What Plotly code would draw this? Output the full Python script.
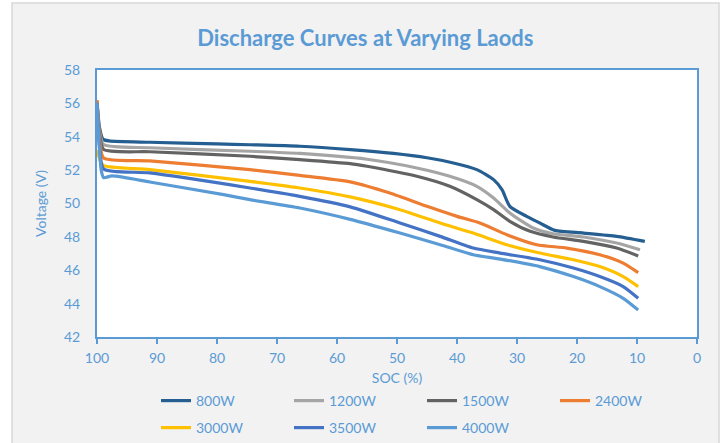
import plotly.graph_objects as go

# ---------------- data ----------------
series_names = ["800W", "1200W", "1500W", "2400W", "3000W", "3500W", "4000W"]
series_colors = ["#255e91", "#a5a5a5", "#636363", "#ed7d31", "#ffc000", "#4472c4", "#5b9bd5"]

soc_800 = [100, 99.6, 99.0, 98.0, 91.2, 80, 74.5, 66.2, 57.8, 50.6, 45.0, 40.6, 36.7, 33.9, 32.5, 31.2, 28.4, 26.2, 23.7, 18.9, 13.4, 8.7]
v_800 = [56.1, 54.6, 53.85, 53.75, 53.67, 53.57, 53.52, 53.43, 53.23, 53.0, 52.74, 52.43, 52.03, 51.43, 50.83, 49.83, 49.23, 48.83, 48.39, 48.23, 48.03, 47.73]

soc_1200 = [100, 99.6, 98.9, 91.2, 74.5, 66.2, 55.0, 46.7, 41.2, 36.7, 33.9, 31.2, 27.3, 24.0, 18.9, 13.4, 9.5]
v_1200 = [56.1, 54.4, 53.53, 53.34, 53.13, 53.0, 52.65, 52.13, 51.63, 51.03, 50.33, 49.43, 48.53, 48.19, 47.99, 47.63, 47.23]

soc_1500 = [100, 99.6, 98.9, 91.2, 74.5, 66.2, 57.8, 55.0, 46.7, 41.2, 36.7, 33.9, 31.2, 27.8, 24.0, 18.9, 13.4, 9.8]
v_1500 = [56.1, 54.2, 53.23, 53.1, 52.83, 52.63, 52.39, 52.23, 51.63, 51.03, 50.23, 49.63, 48.93, 48.33, 47.99, 47.73, 47.33, 46.86]

soc_2400 = [100, 99.6, 98.9, 91.2, 74.5, 66.2, 57.8, 51.2, 45.0, 40.0, 36.2, 31.7, 26.7, 21.7, 16.2, 12.3, 9.8]
v_2400 = [56.2, 54.0, 52.73, 52.56, 52.03, 51.69, 51.3, 50.63, 49.83, 49.23, 48.83, 48.13, 47.53, 47.33, 46.93, 46.43, 45.86]

soc_3000 = [100, 99.5, 98.9, 91.2, 74.5, 66.2, 57.8, 49.5, 42.8, 37.3, 31.7, 26.2, 20.6, 16.2, 12.3, 9.8]
v_3000 = [53.2, 52.6, 52.27, 52.03, 51.33, 50.93, 50.4, 49.63, 48.83, 48.23, 47.53, 47.03, 46.63, 46.22, 45.62, 45.02]

soc_3500 = [100, 99.6, 98.9, 91.2, 74.5, 66.2, 57.8, 49.5, 42.8, 37.3, 32.8, 26.2, 20.6, 16.2, 12.3, 9.8]
v_3500 = [56.0, 53.5, 52.07, 51.83, 50.93, 50.43, 49.8, 48.83, 48.03, 47.33, 47.03, 46.63, 46.13, 45.62, 45.02, 44.32]

soc_4000 = [100, 99.7, 99.3, 98.9, 97.5, 91.2, 78.9, 74.5, 66.2, 57.8, 49.5, 42.8, 37.3, 32.8, 26.2, 20.6, 16.2, 12.3, 9.8]
v_4000 = [56.0, 53.8, 52.0, 51.55, 51.65, 51.29, 50.53, 50.23, 49.73, 49.05, 48.23, 47.53, 46.93, 46.67, 46.22, 45.62, 45.02, 44.32, 43.62]

soc_values = [soc_800, soc_1200, soc_1500, soc_2400, soc_3000, soc_3500, soc_4000]
volt_values = [v_800, v_1200, v_1500, v_2400, v_3000, v_3500, v_4000]

x_ticks = [100, 90, 80, 70, 60, 50, 40, 30, 20, 10, 0]
y_ticks = [42, 44, 46, 48, 50, 52, 54, 56, 58]

title_text = "Discharge Curves at Varying Laods"
x_title = "SOC (%)"
y_title = "Voltage (V)"

# ---------------- figure ----------------
TXT = "#5b9bd5"
FONT = "Lato"
W, H = 725, 443
L, R, T, B = 97, 28, 70, 106
PW, PH = W - L - R, H - T - B


def px_x(px):
    return (px - L) / PW


def px_y(py):
    return (H - B - py) / PH


fig = go.Figure()
for i, (name, col, xs, ys) in enumerate(zip(series_names, series_colors, soc_values, volt_values)):
    fig.add_trace(go.Scatter(
        x=xs, y=ys, mode="lines", name=name,
        line=dict(color=col, width=3.2, shape="spline", smoothing=0.6),
        legend="legend" if i < 4 else "legend2",
    ))

legend_common = dict(
    orientation="h", xanchor="left", yanchor="middle",
    font=dict(family=FONT, size=14, color=TXT),
    bgcolor="rgba(0,0,0,0)", entrywidth=88, entrywidthmode="pixels",
    tracegroupgap=0, itemwidth=30,
)

fig.update_layout(
    width=W, height=H,
    margin=dict(l=L, r=R, t=T, b=B, autoexpand=False),
    paper_bgcolor="#f2f2f2",
    plot_bgcolor="#ffffff",
    title=dict(text=title_text, x=0.504, xref="container", y=1 - 38 / H, yref="container",
               xanchor="center", yanchor="middle",
               font=dict(family=FONT, size=22, color=TXT, weight="bold")),
    xaxis=dict(range=[100, 0], tickvals=x_ticks, showgrid=False, zeroline=False,
               showline=True, linecolor=TXT, linewidth=2, mirror=True,
               ticks="outside", ticklen=5, tickwidth=1.5, tickcolor=TXT,
               ticklabelstandoff=2,
               tickfont=dict(family=FONT, size=14, color=TXT),
               title=dict(text=x_title, font=dict(family=FONT, size=14, color=TXT), standoff=8)),
    yaxis=dict(range=[42, 58], tickvals=y_ticks, showgrid=False, zeroline=False,
               showline=True, linecolor=TXT, linewidth=2, mirror=True,
               ticks="", ticklabelstandoff=12,
               tickfont=dict(family=FONT, size=14, color=TXT),
               title=dict(text=y_title, font=dict(family=FONT, size=14, color=TXT), standoff=14)),
    legend=dict(x=px_x(156), y=px_y(401), **legend_common),
    legend2=dict(x=px_x(156), y=px_y(428), **legend_common),
    showlegend=True,
)

# outer frame: white strips outside the light grey chart area and a thin border
white = "#ffffff"
frame = "#d9d9d9"
fig.add_shape(type="rect", xref="paper", yref="paper", x0=px_x(-2), x1=px_x(11.5), y0=px_y(H + 2), y1=px_y(-2),
              fillcolor=white, line=dict(width=0), layer="below")
fig.add_shape(type="rect", xref="paper", yref="paper", x0=px_x(-2), x1=px_x(W + 2), y0=px_y(2.5), y1=px_y(-2),
              fillcolor=white, line=dict(width=0), layer="below")
fig.add_shape(type="rect", xref="paper", yref="paper", x0=px_x(719.5), x1=px_x(W + 2), y0=px_y(H + 2), y1=px_y(-2),
              fillcolor=white, line=dict(width=0), layer="below")
fig.add_shape(type="rect", xref="paper", yref="paper", x0=px_x(12), x1=px_x(719), y0=px_y(H + 5), y1=px_y(3),
              fillcolor="rgba(0,0,0,0)", line=dict(width=1.5, color=frame), layer="below")

fig.write_html("out.html")
